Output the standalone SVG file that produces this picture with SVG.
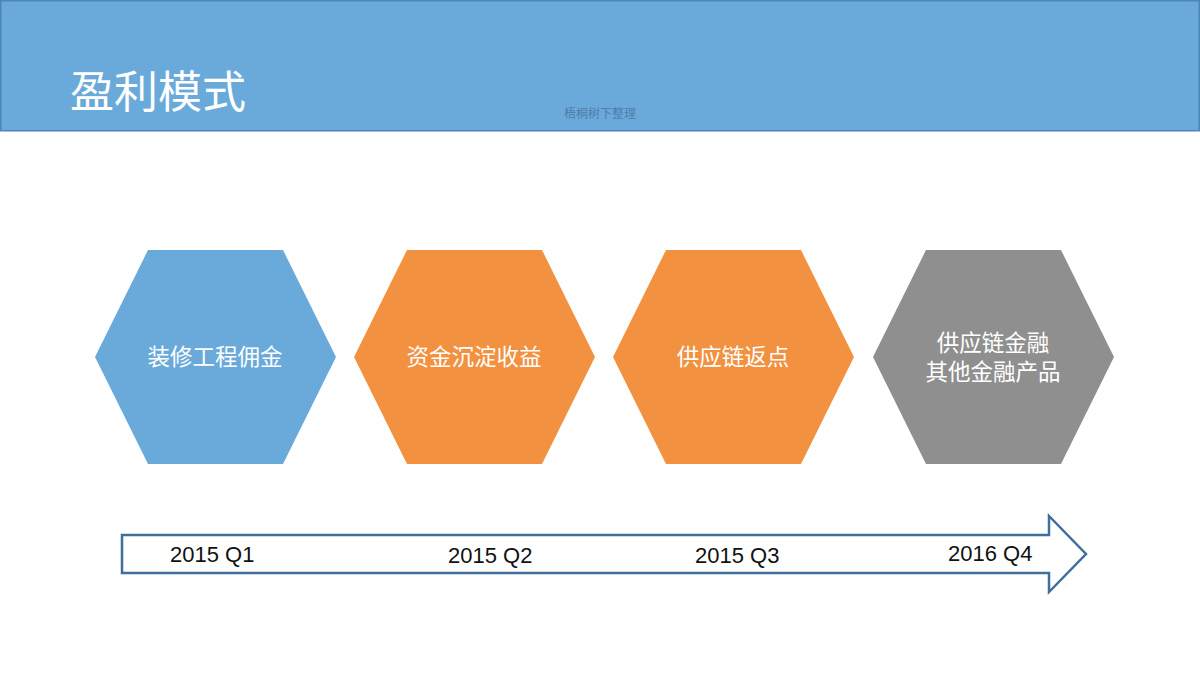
<svg xmlns="http://www.w3.org/2000/svg" width="1200" height="675" viewBox="0 0 1200 675">
<style>
.hex-text{font-family:"Noto Sans CJK SC","Noto Sans",sans-serif;font-size:22.5px;fill:#ffffff;text-anchor:middle}
.q{font-family:"Liberation Sans",Arial,sans-serif;font-size:22px;fill:#111111}
</style>
<rect x="0" y="0" width="1200" height="675" fill="#ffffff"/>
<g id="header">
<rect x="0.75" y="0.75" width="1198.5" height="130" fill="#6aaadb" stroke="#4f84b8" stroke-width="1.5"/>
<text x="70" y="108" font-family="Noto Sans CJK SC,sans-serif" font-size="44" fill="#ffffff">盈利模式</text>
<text x="600" y="118" font-family="Noto Sans CJK SC,sans-serif" font-size="12" fill="#4f7ca8" text-anchor="middle">梧桐树下整理</text>
</g>
<g id="node1">
<polygon points="148,250 283,250 336,357 283,464 148,464 95,357" fill="#6aaadb"/>
<text class="hex-text" x="215" y="365">装修工程佣金</text>
</g>
<g id="node2">
<polygon points="407,250 542,250 595,357 542,464 407,464 354,357" fill="#f29140"/>
<text class="hex-text" x="474" y="365">资金沉淀收益</text>
</g>
<g id="node3">
<polygon points="666,250 801,250 854,357 801,464 666,464 613,357" fill="#f29140"/>
<text class="hex-text" x="733" y="365">供应链返点</text>
</g>
<g id="node4">
<polygon points="926,250 1061,250 1114,357 1061,464 926,464 873,357" fill="#8f8f8f"/>
<text class="hex-text" x="993" y="351">供应链金融</text>
<text class="hex-text" x="993" y="380">其他金融产品</text>
</g>
<g id="connectors">
<polygon points="122,535 1049,535 1049,516 1086,554 1049,592 1049,573 122,573" fill="#ffffff" stroke="#3f6f9c" stroke-width="2.5"/>
</g>
<g id="timeline-labels">
<text class="q" x="170" y="562">2015 Q1</text>
<text class="q" x="448" y="563">2015 Q2</text>
<text class="q" x="695" y="563">2015 Q3</text>
<text class="q" x="948" y="561">2016 Q4</text>
</g>
</svg>
